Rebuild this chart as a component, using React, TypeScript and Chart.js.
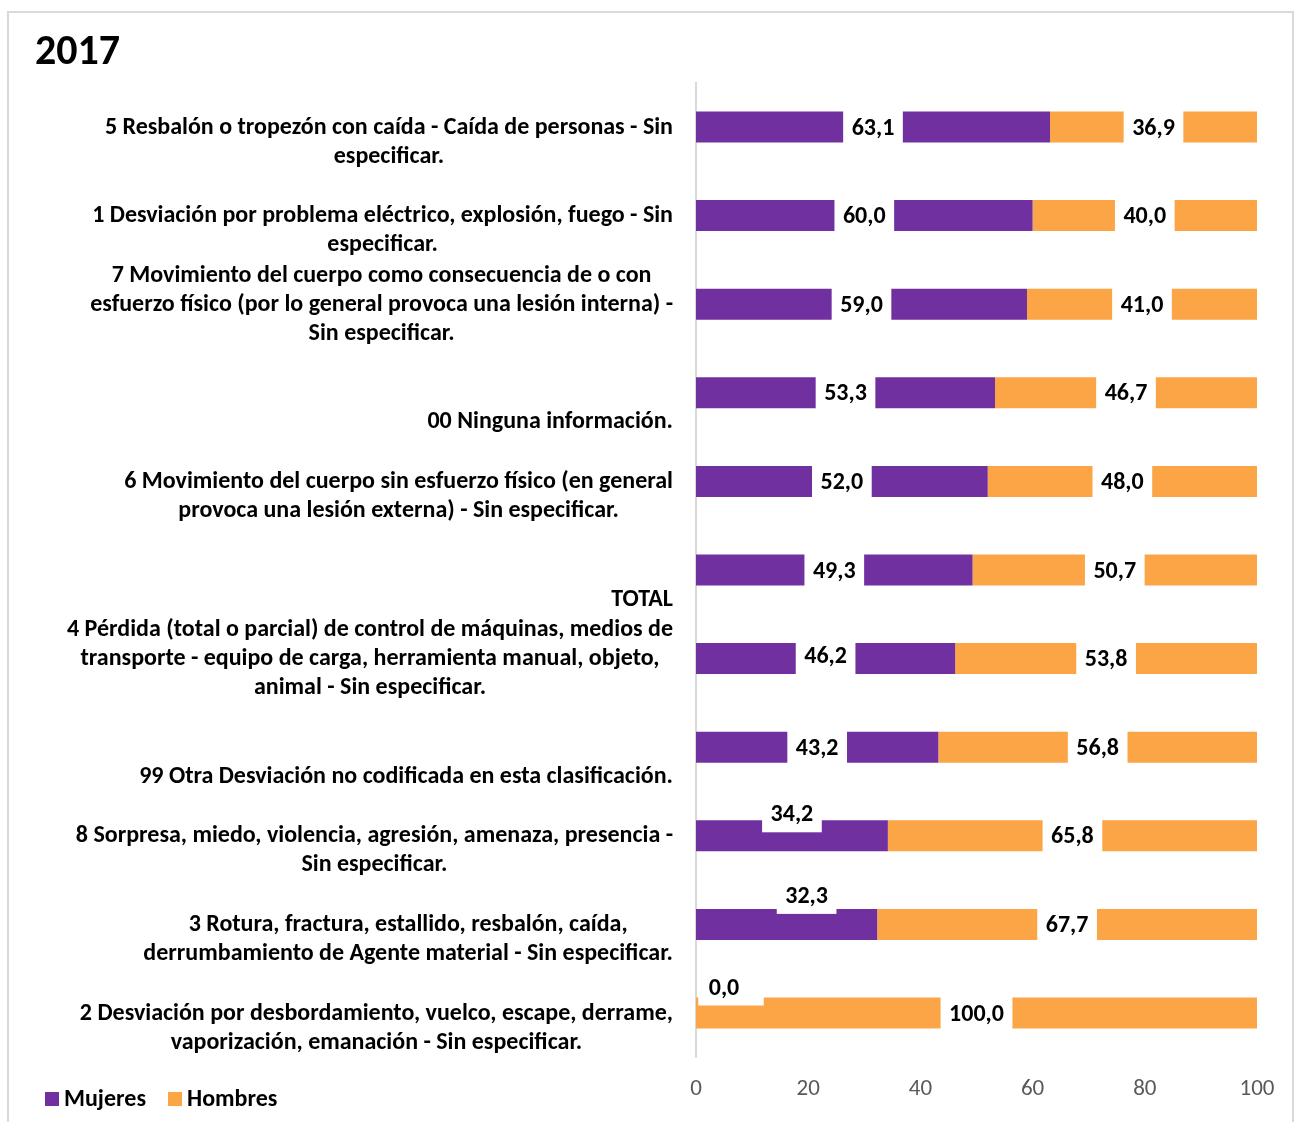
import React, { useEffect, useRef } from "react";
import { Chart, registerables } from "chart.js";

Chart.register(...registerables);

const categories: string[][] = [
  ["", "5 Resbalón o tropezón con caída - Caída de personas - Sin", "especificar."],
  ["", "1 Desviación por problema eléctrico, explosión, fuego - Sin", "especificar."],
  [
    "7 Movimiento del cuerpo como consecuencia de o con",
    "esfuerzo físico (por lo general provoca una lesión interna) -",
    "Sin especificar.",
  ],
  ["", "", "00 Ninguna información."],
  ["", "6 Movimiento del cuerpo sin esfuerzo físico (en general", "provoca una lesión externa) - Sin especificar."],
  ["", "", "TOTAL"],
  [
    "4 Pérdida (total o parcial) de control de máquinas, medios de",
    "transporte - equipo de carga, herramienta manual, objeto,",
    "animal - Sin especificar.",
  ],
  ["", "", "99 Otra Desviación no codificada en esta clasificación."],
  ["", "8 Sorpresa, miedo, violencia, agresión, amenaza, presencia -", "Sin especificar."],
  ["", "3 Rotura, fractura, estallido, resbalón, caída,", "derrumbamiento de Agente material - Sin especificar."],
  ["", "2 Desviación por desbordamiento, vuelco, escape, derrame,", "vaporización, emanación - Sin especificar."],
];

const mujeres = [63.1, 60.0, 59.0, 53.3, 52.0, 49.3, 46.2, 43.2, 34.2, 32.3, 0.0];
const hombres = [36.9, 40.0, 41.0, 46.7, 48.0, 50.7, 53.8, 56.8, 65.8, 67.7, 100.0];
const seriesNames = ["Mujeres", "Hombres"];
const xTicks = [0, 20, 40, 60, 80, 100];
const titleText = "2017";

const PURPLE = "#7030A0";
const ORANGE = "#FBA546";
const FONT = "Carlito, Calibri, 'Liberation Sans', sans-serif";

// label position adjustments (style only)
const labelNudges: Record<string, { dx: number; dy: number; growL?: number; growR?: number }> = {
  "0-6": { dx: 0, dy: -3 },
  "0-8": { dx: 0, dy: -22 },
  "0-9": { dx: 20, dy: -29 },
  "0-10": { dx: 28, dy: -26, growL: 2, growR: 16 },
};

const yLabelPlugin = {
  id: "yLabelsCentered",
  afterDraw(chart: any) {
    const y = chart.scales.y;
    const ctx = chart.ctx as CanvasRenderingContext2D;
    ctx.save();
    ctx.font = `bold 24px ${FONT}`;
    ctx.fillStyle = "#000000";
    ctx.textAlign = "center";
    ctx.textBaseline = "alphabetic";
    const right = y.right - 23;
    (chart.data.labels as string[][]).forEach((lines, i) => {
      const w = Math.max(...lines.map((l) => ctx.measureText(l).width));
      const cx = right - w / 2;
      const cy = y.getPixelForValue(i);
      const n = lines.length;
      lines.forEach((l, k) => {
        if (!l) return;
        ctx.fillText(l, cx, cy + (k - (n - 1) / 2) * 29 + 6.5);
      });
    });
    ctx.restore();
  },
};

const dataLabelPlugin = {
  id: "valueLabels",
  afterDatasetsDraw(chart: any) {
    const ctx = chart.ctx as CanvasRenderingContext2D;
    ctx.save();
    ctx.font = `bold 24px ${FONT}`;
    ctx.textAlign = "center";
    ctx.textBaseline = "alphabetic";
    chart.data.datasets.forEach((ds: any, di: number) => {
      const meta = chart.getDatasetMeta(di);
      meta.data.forEach((el: any, i: number) => {
        const v = ds.data[i] as number;
        const p = el.getProps(["x", "base", "y"], true);
        const nudge = labelNudges[`${di}-${i}`] || { dx: 0, dy: 0 };
        const cx = (p.x + p.base) / 2 + nudge.dx;
        const baseline = p.y + 7.5 + nudge.dy;
        const text = v.toFixed(1).replace(".", ",");
        const tw = ctx.measureText(text).width;
        const gl = nudge.growL || 0;
        const gr = nudge.growR || 0;
        ctx.fillStyle = "#FFFFFF";
        ctx.fillRect(cx - tw / 2 - 8.5 - gl, baseline - 24, tw + 17 + gl + gr, 35);
        ctx.fillStyle = "#000000";
        ctx.fillText(text, cx, baseline);
      });
    });
    ctx.restore();
  },
};

const legendPlugin = {
  id: "bottomLeftLegend",
  afterDraw(chart: any) {
    const ctx = chart.ctx as CanvasRenderingContext2D;
    ctx.save();
    ctx.font = `bold 24px ${FONT}`;
    ctx.textAlign = "left";
    ctx.textBaseline = "alphabetic";
    let x = 45;
    const top = 1092;
    chart.data.datasets.forEach((ds: any) => {
      ctx.fillStyle = ds.backgroundColor;
      ctx.fillRect(x, top, 14, 14);
      ctx.fillStyle = "#000000";
      ctx.fillText(ds.label, x + 19, top + 14);
      x += 19 + ctx.measureText(ds.label).width + 22;
    });
    ctx.restore();
  },
};

export default function App() {
  const ref = useRef<HTMLCanvasElement | null>(null);
  useEffect(() => {
    if (!ref.current) return;
    const chart = new Chart(ref.current, {
      type: "bar",
      data: {
        labels: categories as any,
        datasets: [
          {
            label: seriesNames[0],
            data: mujeres,
            backgroundColor: PURPLE,
            barPercentage: 0.35,
            categoryPercentage: 1,
          },
          {
            label: seriesNames[1],
            data: hombres,
            backgroundColor: ORANGE,
            barPercentage: 0.35,
            categoryPercentage: 1,
          },
        ],
      },
      options: {
        indexAxis: "y",
        responsive: false,
        animation: false,
        layout: { padding: { left: 35, right: 41, top: 0, bottom: 0 } },
        scales: {
          x: {
            stacked: true,
            min: 0,
            max: 100,
            grid: { display: false, drawTicks: false },
            border: { display: false },
            ticks: {
              color: "#595959",
              font: { family: FONT, size: 23 },
              padding: 18,
            },
            afterBuildTicks: (s: any) => {
              s.ticks = xTicks.map((v) => ({ value: v }));
            },
            afterFit: (s: any) => {
              s.height = 64.7;
            },
          },
          y: {
            stacked: true,
            grid: { display: false, drawTicks: false },
            border: { display: true, color: "#D9D9D9", width: 2 },
            ticks: { display: false },
            afterFit: (s: any) => {
              s.width = 661;
            },
          },
        },
        plugins: {
          legend: { display: false },
          tooltip: { enabled: false },
          title: {
            display: true,
            text: titleText,
            align: "start",
            color: "#000000",
            font: { family: FONT, size: 42, weight: "bold", lineHeight: 1.2 },
            padding: { top: 28, bottom: 4.3 },
          },
        },
      } as any,
      plugins: [yLabelPlugin, dataLabelPlugin, legendPlugin],
    });
    return () => chart.destroy();
  }, []);

  return (
    <div
      style={{
        position: "absolute",
        left: 0,
        top: 0,
        width: 1298,
        height: 1122,
        overflow: "hidden",
        background: "#FFFFFF",
      }}
    >
      <div
        style={{
          position: "absolute",
          left: 7,
          top: 11,
          width: 1287,
          height: 1200,
          boxSizing: "border-box",
          border: "2px solid #D9D9D9",
        }}
      />
      <canvas
        ref={ref}
        width={1298}
        height={1122}
        style={{ position: "absolute", left: 0, top: 0, display: "block" }}
      />
    </div>
  );
}
